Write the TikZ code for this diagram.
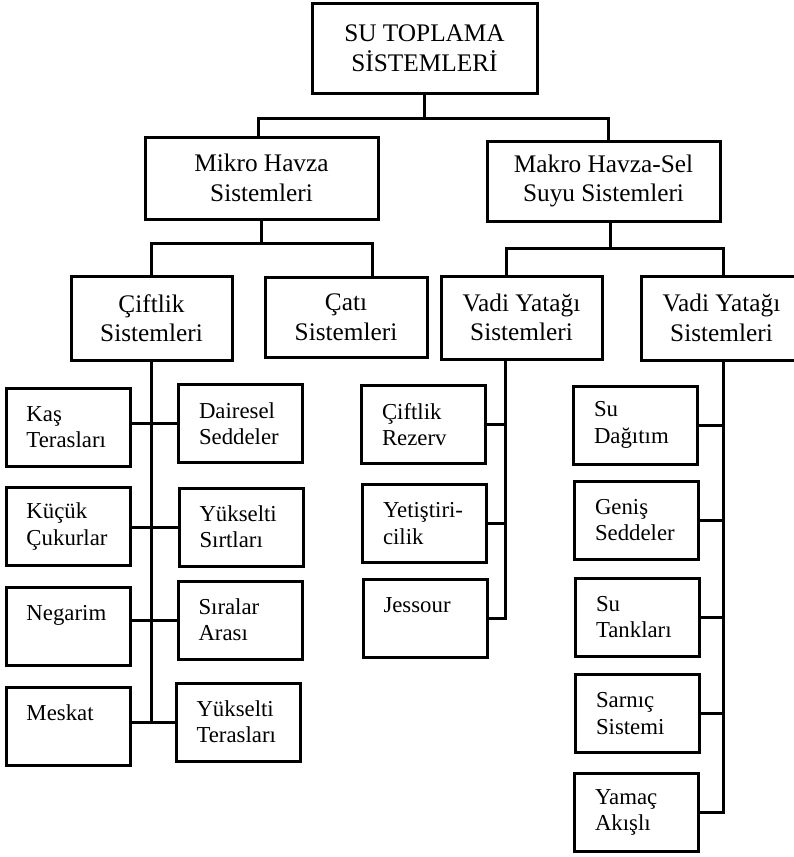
\documentclass[tikz,border=0pt]{standalone}
\usepackage{fontspec}
\setmainfont{Liberation Serif}

\begin{document}
\begin{tikzpicture}[x=1pt,y=-1pt]
  \tikzset{headbox/.style = {draw, line width=3pt, align=center, inner sep=0pt,
      font=\fontsize{25.3}{29.5}\selectfont}}
  \tikzset{leafbox/.style = {draw, line width=3pt, align=left, text width=83pt,
      inner xsep=20.5pt, inner ysep=0pt, minimum height=78pt,
      font=\fontsize{22.8}{26.2}\selectfont}}
  \tikzset{link/.style = {line width=3pt}}

  \useasboundingbox (0,0) rectangle (793,857);

  \node[headbox, minimum width=225pt, minimum height=90pt] (su) at (424.5,48) {SU TOPLAMA\\SİSTEMLERİ};

  \node[headbox, minimum width=233pt, minimum height=82pt] (mikro) at (261.5,178) {Mikro Havza\\Sistemleri};
  \node[headbox, minimum width=233pt, minimum height=80pt] (makro) at (603.5,181) {Makro Havza-Sel\\Suyu Sistemleri};

  \node[headbox, minimum width=161pt, minimum height=84pt] (ciftlik) at (151.5,318) {Çiftlik\\Sistemleri};
  \node[headbox, minimum width=162pt, minimum height=80pt] (cati) at (346,317) {Çatı\\Sistemleri};
  \node[headbox, minimum width=161pt, minimum height=83pt] (vadia) at (521.5,317.5) {Vadi Yatağı\\Sistemleri};
  \node[headbox, minimum width=161pt, minimum height=84pt] (vadib) at (721.5,318) {Vadi Yatağı\\Sistemleri};

	\node[leafbox] (kas) at (68,427) {Kaş\\Terasları};
	\node[leafbox] (kucuk) at (68,526.5) {Küçük\\Çukurlar};
	\node[leafbox] (negarim) at (68,626) {Negarim\\~};
	\node[leafbox] (meskat) at (68,726) {Meskat\\~};

	\node[leafbox] (dairesel) at (240.5,423.5) {Dairesel\\Seddeler};
	\node[leafbox] (ysirt) at (241,527) {Yükselti\\Sırtları};
	\node[leafbox] (siralar) at (240,620) {Sıralar\\Arası};
	\node[leafbox] (yteras) at (238,722) {Yükselti\\Terasları};

	\node[leafbox] (crezerv) at (423.5,424.5) {Çiftlik\\Rezerv};
	\node[leafbox] (yetis) at (424.5,523.5) {Yetiştiri-\\cilik};
	\node[leafbox] (jessour) at (425,618) {Jessour\\~};

	\node[leafbox] (sudag) at (635.5,425) {Su\\Dağıtım};
	\node[leafbox] (genis) at (636.5,520) {Geniş\\Seddeler};
	\node[leafbox] (sutank) at (637.5,617) {Su\\Tankları};
	\node[leafbox] (sarnic) at (637.5,713.5) {Sarnıç\\Sistemi};
	\node[leafbox] (yamac) at (636.5,812.5) {Yamaç\\Akışlı};

  \draw[link] (su.south) -- ++(0,24) coordinate (sj);
  \draw[link] ([xshift=-3pt]mikro.north) |- (sj) -| ([xshift=5pt]makro.north);

  \draw[link] (mikro.south) -- ++(0,23) coordinate (mj);
  \draw[link] (ciftlik.north) |- (mj) -| ([xshift=26pt]cati.north);

  \draw[link] ([xshift=7pt]makro.south) -- ++(0,26) coordinate (kj);
  \draw[link] ([xshift=-15pt]vadia.north) |- (kj) -| ([xshift=2pt]vadib.north);

  \draw[link] (ciftlik.south) -- (ciftlik.south |- yteras.west);
       \foreach \from/\to in {kas/dairesel, kucuk/ysirt, negarim/siralar, meskat/yteras}
    \draw[link] (\to.west) -- (\to.west -| \from.east);

  \coordinate (va) at ([xshift=-16pt]vadia.south);
  \draw[link] (va) |- (jessour.east);
       \foreach \from in {crezerv, yetis}
    \draw[link] (\from.east) -- (\from.east -| va);

  \coordinate (vb) at ([xshift=2pt]vadib.south);
  \draw[link] (vb) |- (yamac.east);
       \foreach \from in {sudag, genis, sutank, sarnic}
    \draw[link] (\from.east) -- (\from.east -| vb);
\end{tikzpicture}
\end{document}
